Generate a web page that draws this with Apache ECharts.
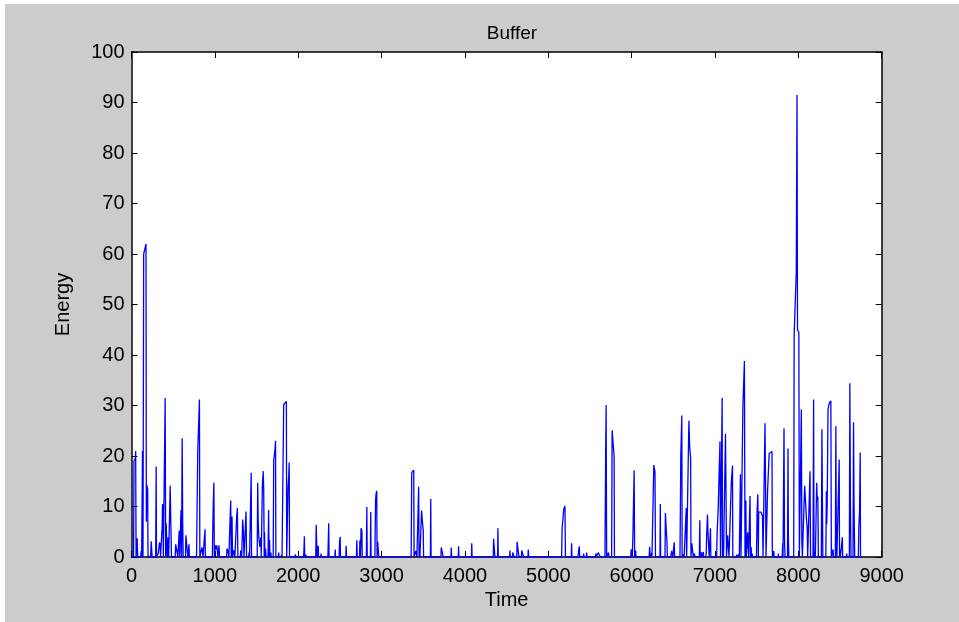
<!DOCTYPE html>
<html>
<head>
<meta charset="utf-8">
<title>Buffer</title>
<script src="https://cdn.jsdelivr.net/npm/echarts@6/dist/echarts.min.js"></script>
<style>
  html, body { margin: 0; padding: 0; background: #fff; }
  #chart { width: 959px; height: 622px; }
</style>
</head>
<body>
<div id="chart"></div>
<script>
// [time, energy] pairs, split by stretch of the year
const part1 = [
  [0,0],[25,0],[30,19],[45,19.5],[50,21],[55,0],[62,0],[68,3.7],[74,0],[110,0],[116,1.2],[122,0],
  [126,0],[132,21],[138,0],[143,0],[146,60],[160,61],[174,62],[178,7],[182,14.3],[188,14],[194,13.5],[198,0],
  [230,0],[236,3.1],[244,3.1],[248,0],[290,0],[296,17.9],[300,0],[318,0],[322,0.8],[330,0.8],[336,2.9],[344,2.4],[348,0],
  [360,0],[368,6],[372,10.5],[378,7.9],[382,0],[398,0],[404,31.5],[410,0],[416,6.7],[422,6.7],[428,0],[440,3.9],[446,0],
  [458,0],[464,14.1],[472,6.7],[480,0],[524,0],[530,2.5],[552,2.5],[556,0],[566,0],[572,5.2],[578,0],[588,0],[594,9.3],[600,0],
  [604,0],[608,23.5],[614,7.2],[620,0],[648,0],[652,4.3],[664,4.1],[672,4.3],[676,0],[686,0],[690,2.5],[694,0],
  [780,0],[795,21],[815,31.2],[820,0],[840,0],[845,1.9],[855,1.9],[858,0],[876,0],[882,5.5],[886,0],
  [970,0],[980,10],[988,14.7],[994,0],[998,0],[1002,1.5],[1010,2.3],[1018,1.5],[1024,2.3],[1030,1.2],[1036,0],
  [1044,0],[1050,2.3],[1056,0],[1140,0],[1146,1.7],[1156,1.2],[1162,1.3],[1168,0]
];
const part2 = [
  [1180,0],[1190,11.2],[1196,0],[1202,0],[1206,8],[1212,0],[1222,0],[1226,1.3],[1236,1.3],[1240,0],
  [1256,0],[1262,8],[1270,9.7],[1276,0],[1306,0],[1310,1.3],[1318,1.3],[1322,0],[1330,0],[1334,7.4],[1342,5.2],[1350,0],
  [1366,0],[1374,9],[1380,0],[1406,0],[1410,0.9],[1416,0],[1424,0],[1430,12],[1436,16.7],[1440,0],
  [1508,0],[1514,14.7],[1520,7],[1528,3.9],[1540,2],[1552,3.9],[1556,0],[1560,0],[1570,14],[1580,17],[1586,13.5],[1592,0],
  [1596,4.9],[1600,0],[1608,1.7],[1614,0],[1638,0],[1645,9.3],[1650,0],[1656,3.4],[1662,0],[1672,0.9],[1676,0],
  [1700,0],[1706,19.2],[1720,21],[1728,23],[1732,0],[1760,0],[1766,0.9],[1770,0],[1796,0],[1800,0.4],[1806,0],
  [1820,0],[1826,30.2],[1840,30],[1848,30.5],[1858,30.8],[1862,0],[1872,0],[1878,13.9],[1886,16],[1892,18.7],[1896,0],
  [1960,0],[1966,0.5],[1972,0],[2062,0],[2068,1],[2074,4.1],[2078,0],[2088,0],[2092,0.5],[2096,0],
  [2210,0],[2216,6.4],[2222,6.4],[2226,0],[2236,0],[2240,2.2],[2244,0],[2270,0],[2274,0.7],[2278,0],
  [2356,0],[2362,4],[2366,6.7],[2370,0]
];
const part3 = [
  [2440,0],[2444,1.5],[2448,0],[2490,0],[2496,3],[2503,4],[2508,0],[2570,0],[2575,2.2],[2580,0],
  [2698,0],[2703,3.3],[2708,0],[2736,0],[2740,3.3],[2746,0],[2750,0],[2754,5.7],[2764,5.2],[2768,0],
  [2818,0],[2823,9.9],[2828,0],[2866,0],[2870,8.9],[2874,0],[2920,0],[2928,11.2],[2934,12.5],[2942,13.1],[2946,0],
  [2950,0],[2954,3],[2962,3],[2966,0],[3355,0],[3362,16.7],[3378,17],[3386,17.2],[3390,0],
  [3405,0],[3410,1.2],[3420,1.2],[3424,0],[3440,0],[3445,13.9],[3450,0],[3456,1],[3460,0],
  [3474,0],[3480,9.2],[3490,7],[3500,5.3],[3504,0],[3586,0],[3590,11.5],[3594,0],
  [3712,0],[3716,1.9],[3736,1.9],[3740,0],[3832,0],[3836,1.9],[3840,0],[3920,0],[3924,2.1],[3928,0],
  [4078,0],[4082,2.7],[4086,0],[4340,0],[4344,3.6],[4356,3.6],[4360,0],[4392,0],[4396,5.7],[4400,0],
  [4536,0],[4540,1.3],[4544,0],[4570,0],[4574,0.9],[4586,0.9],[4590,0],[4622,0],[4626,3],[4644,3],[4648,0],
  [4678,0],[4682,1.3],[4700,1.3],[4704,0],[4756,0],[4760,1.5],[4766,0]
];
const part4 = [
  [5160,0],[5166,5.7],[5180,5.7],[5186,9.5],[5200,10.1],[5206,0],[5276,0],[5280,2.7],[5284,0],
  [5356,0],[5362,1],[5372,2.1],[5378,0],[5420,0],[5424,0.7],[5428,0],[5456,0],[5460,0.9],[5466,0],
  [5566,0],[5570,0.7],[5576,0],[5596,0],[5600,0.9],[5620,0.9],[5624,0],
  [5680,0],[5688,20],[5694,30.1],[5700,0],[5718,0],[5722,0.9],[5728,0],[5760,0],[5766,25.1],[5780,22],[5790,20],[5794,0],
  [5990,0],[5994,1.5],[6004,1.5],[6008,0],[6012,0],[6016,4.8],[6024,4.8],[6030,17.2],[6036,0],[6044,0],[6048,1.3],[6052,0],
  [6210,0],[6216,2],[6222,0],[6236,0],[6240,0.8],[6244,0],[6262,0],[6266,18.2],[6280,16.9],[6286,0],
  [6340,0],[6344,10.5],[6348,0],[6400,0],[6405,8.7],[6416,5.2],[6424,3],[6428,0],[6470,0],[6480,1.2],[6490,1.2],[6494,0],
  [6506,0],[6511,2.9],[6516,0],[6580,0],[6590,20.2],[6602,28],[6606,0],[6622,0],[6626,0.5],[6630,0],
  [6650,0],[6655,9.7],[6660,0],[6680,0],[6687,27],[6696,22],[6708,19.5],[6712,0],[6718,0],[6722,2.7],[6734,2.4],[6740,0],
  [6750,0],[6754,0.7],[6758,0],[6812,0],[6818,7.3],[6822,0],[6830,0],[6834,1],[6838,0],[6856,0],[6860,1],[6864,0],
  [6890,0],[6895,1],[6900,4.1],[6910,8.4],[6916,4.9],[6926,4.9],[6930,0],[6940,0],[6946,5.7],[6950,0]
];
const part5 = [
  [7020,0],[7026,5],[7040,10.2],[7050,17],[7060,22.9],[7066,0],[7080,0],[7086,31.5],[7090,0],[7098,0.5],[7102,0],
  [7120,0],[7126,24.4],[7132,13.2],[7138,0],[7146,0],[7152,4.3],[7162,4.3],[7168,0],[7190,0],[7196,14.9],[7210,18.1],[7214,0],
  [7256,0],[7260,0.5],[7264,0],[7282,0],[7288,0.5],[7292,0],[7296,0],[7305,16.4],[7312,0],[7320,0],[7335,30],[7353,38.8],[7360,0],
  [7366,0],[7370,11.2],[7376,0],[7386,0],[7392,4.9],[7400,4.9],[7404,0],[7414,0],[7420,12.1],[7426,0],[7434,2],[7438,0],
  [7446,0.7],[7450,0],[7498,0],[7505,9.1],[7514,12.4],[7520,0],[7524,8.9],[7540,8.9],[7552,8.9],[7566,8.9],[7570,8.1],[7576,0],
  [7594,0],[7600,26.5],[7606,15.2],[7612,0],[7620,0],[7630,12.7],[7650,20.5],[7660,20.5],[7684,20.9],[7688,0],
  [7702,0],[7706,1.2],[7710,0],[7756,0],[7760,0.7],[7764,0],[7806,0],[7812,2.7],[7816,0],[7822,0],[7828,25.5],[7834,3.4],[7840,0],
  [7870,0],[7876,21.5],[7880,4.7],[7886,0],[7944,0],[7950,44],[7975,56.5],[7984,91.5],[7990,45],[8006,44.5],[8012,0],
  [8030,0],[8036,29.2],[8042,3.5],[8048,0],[8070,0],[8076,14.1],[8090,14.1],[8098,7.3],[8106,5.9],[8112,0],
  [8134,0],[8140,17],[8146,0],[8176,0],[8183,31.2],[8188,0],[8200,1],[8204,0],[8214,0],[8220,14.7],[8226,11.2],[8234,12],[8240,0],
  [8276,0],[8283,25.3],[8288,12.7],[8294,0],[8330,0],[8336,13],[8340,6.5],[8346,10],[8356,29.3],[8372,30.5],[8390,30.9],[8396,0],
  [8410,0],[8416,1.5],[8420,0],[8444,0],[8450,25.9],[8456,2.1],[8462,0],[8484,0],[8490,19.3],[8494,0],[8500,1.5],[8504,0],
  [8524,0],[8528,3.9],[8532,0],[8576,0],[8580,0.7],[8584,0],[8612,0],[8618,34.4],[8624,11.9],[8632,0],
  [8656,0],[8662,26.7],[8668,10.5],[8676,0],[8720,0],[8726,6],[8734,8.9],[8742,20.7],[8746,0],[8760,0]
];

const xTicks = { min: 0, max: 9000, step: 1000 };
const yTicks = { min: 0, max: 100, step: 10 };

const FONT = "'Liberation Sans', Arial, sans-serif";
const chart = echarts.init(document.getElementById('chart'));

const axisBase = {
  axisLine: { show: true, onZero: false, lineStyle: { color: '#000', width: 1.5 } },
  axisTick: { show: true, inside: true, length: 6, lineStyle: { color: '#000', width: 1 } },
  splitLine: { show: false }
};
const plain = v => String(v);

chart.setOption({
  animation: false,
  backgroundColor: '#fff',
  graphic: [{
    type: 'rect', z: -10, silent: true,
    shape: { x: 5, y: 4, width: 954, height: 618 },
    style: { fill: '#cccccc' }
  }],
  title: {
    text: 'Buffer', left: 507, top: 19, textAlign: 'center',
    textStyle: { fontFamily: FONT, fontSize: 19, fontWeight: 'normal', color: '#000' }
  },
  grid: {
    left: 131.5, right: 77.3, top: 52, bottom: 65,
    show: true, backgroundColor: '#fff', borderWidth: 0
  },
  xAxis: [
    Object.assign({}, axisBase, {
      type: 'value', position: 'bottom', min: xTicks.min, max: xTicks.max, interval: xTicks.step,
      name: 'Time', nameLocation: 'middle', nameGap: 31,
      nameTextStyle: { fontFamily: FONT, fontSize: 20, color: '#000' },
      axisLabel: { fontFamily: FONT, fontSize: 20, color: '#000', margin: 9, formatter: plain }
    }),
    Object.assign({}, axisBase, {
      type: 'value', position: 'top', min: xTicks.min, max: xTicks.max, interval: xTicks.step,
      axisLabel: { show: false }
    })
  ],
  yAxis: [
    Object.assign({}, axisBase, {
      type: 'value', position: 'left', min: yTicks.min, max: yTicks.max, interval: yTicks.step,
      name: 'Energy', nameLocation: 'middle', nameGap: 58, nameRotate: 90,
      nameTextStyle: { fontFamily: FONT, fontSize: 20, color: '#000' },
      axisLabel: { fontFamily: FONT, fontSize: 20, color: '#000', margin: 7, formatter: plain }
    }),
    Object.assign({}, axisBase, {
      type: 'value', position: 'right', min: yTicks.min, max: yTicks.max, interval: yTicks.step,
      axisLabel: { show: false }
    })
  ],
  series: [{
    type: 'line',
    xAxisIndex: 0, yAxisIndex: 0,
    data: [].concat(part1, part2, part3, part4, part5),
    showSymbol: false,
    symbol: 'none',
    lineStyle: { color: '#0000ff', width: 1.3 }
  }]
});
</script>
</body>
</html>
